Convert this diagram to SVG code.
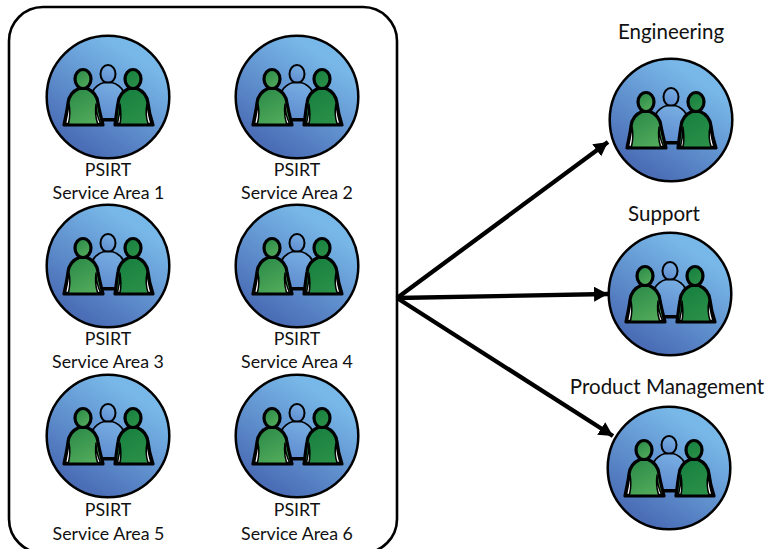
<svg xmlns="http://www.w3.org/2000/svg" width="765" height="549" viewBox="0 0 765 549">
<style>
text{font-family:Lato,"Open Sans","Liberation Sans",sans-serif;font-size:17.800px;fill:#111;text-anchor:middle}
text.t{font-size:20.500px}
.p{stroke:#000;stroke-width:3.200;stroke-linejoin:round;stroke-linecap:round}
.s{fill:#fff;stroke:#000;stroke-width:1.500;stroke-linejoin:round}
.c{stroke:#000;stroke-width:4.300;fill:none}
</style>
<defs>
<linearGradient id="bg" x1="0.8" y1="0.1" x2="0.25" y2="0.95"><stop offset="0.1" stop-color="#78b8e8"/><stop offset="0.95" stop-color="#4a6db6"/></linearGradient>
<linearGradient id="gl" x1="0.8" y1="1" x2="0.2" y2="0"><stop offset="0" stop-color="#55ad5c"/><stop offset="1" stop-color="#2a8a48"/></linearGradient>
<linearGradient id="gr" x1="0.8" y1="1" x2="0.2" y2="0"><stop offset="0" stop-color="#2c9148"/><stop offset="1" stop-color="#178040"/></linearGradient>
<linearGradient id="gb" x1="0.7" y1="0" x2="0.4" y2="1"><stop offset="0" stop-color="#78aee2"/><stop offset="1" stop-color="#5f8dd0"/></linearGradient>
<g id="team">
<circle r="61.300" fill="url(#bg)" stroke="#000" stroke-width="2.500"/>
<path d="M-10 23.500 L10 23.500" stroke="#000" stroke-width="2" fill="none"/>
<ellipse cx="0" cy="-23" rx="7.500" ry="9" fill="url(#gb)" stroke="#000" stroke-width="2"/>
<path fill="url(#gb)" stroke="#000" stroke-width="1.800" d="M-4-14.500 C-9-13-13-10-15-6 L-8 22 L8 22 L15-6 C13-10 9-13 4-14.500 Z"/>
<path class="p" fill="url(#gl)" d="M-29-8.500 C-35-6-39-2-40 6 C-41 15-43 22-44 28 L-5 28 C-7 20-9 12-10 6 C-11-2-15-6-21-8.500 Z"/>
<ellipse class="p" cx="-25" cy="-18" rx="8" ry="9.500" fill="url(#gl)"/>
<path class="s" d="M-39 7 C-40 15-41.500 22-42.500 26.500 L-39.500 26.500 C-38 20-37.500 14-39 7 Z M-12 7 C-12 14-10 21-7.500 26.500 L-10.500 26.500 C-12.500 20-13 14-12 7 Z"/>
<path class="p" fill="url(#gr)" d="M29-8.500 C35-6 39-2 40 6 C41 15 43 22 45 28 L7 28 C8 20 9 12 10 6 C11-2 15-6 21-8.500 Z"/>
<ellipse class="p" cx="25" cy="-18" rx="8" ry="9.500" fill="url(#gr)"/>
<path class="s" d="M39 7 C40 15 41.500 22 43 26.500 L40 26.500 C38 20 37.500 14 39 7 Z M12 7 C12 14 11 21 9.500 26.500 L12 26.500 C13.500 20 13 14 12 7 Z"/>
</g>
<marker id="ah" markerUnits="userSpaceOnUse" markerWidth="17" markerHeight="17" refX="14" refY="7.500" orient="auto"><path d="M0 0 L14 7.500 L0 15 Z" fill="#000"/></marker>
</defs>
<rect id="container" x="9" y="7" width="388" height="546" rx="34" fill="#fff" stroke="#000" stroke-width="2.600"/>
<g id="connectors">
<path class="c" d="M397 298 L608 142" marker-end="url(#ah)"/>
<path class="c" d="M397 298 L608 294" marker-end="url(#ah)"/>
<path class="c" d="M397 298 L613 436" marker-end="url(#ah)"/>
</g>
<g id="sa1"><use href="#team" x="108" y="97"/><text x="108" y="175.500">PSIRT</text><text x="108.500" y="199">Service Area 1</text></g>
<g id="sa2"><use href="#team" x="297" y="97"/><text x="297" y="175.500">PSIRT</text><text x="297" y="199">Service Area 2</text></g>
<g id="sa3"><use href="#team" x="108" y="266"/><text x="108" y="345">PSIRT</text><text x="108" y="368">Service Area 3</text></g>
<g id="sa4"><use href="#team" x="297" y="266"/><text x="297" y="345">PSIRT</text><text x="297" y="368">Service Area 4</text></g>
<g id="sa5"><use href="#team" x="108" y="436"/><text x="108" y="516">PSIRT</text><text x="108.500" y="540">Service Area 5</text></g>
<g id="sa6"><use href="#team" x="297" y="436"/><text x="297" y="516">PSIRT</text><text x="297" y="540">Service Area 6</text></g>
<g id="engineering"><use href="#team" x="671" y="120"/><text class="t" x="671" y="39">Engineering</text></g>
<g id="support"><use href="#team" x="670" y="294"/><text class="t" x="664" y="221">Support</text></g>
<g id="product"><use href="#team" x="669" y="468"/><text class="t" x="667" y="394">Product Management</text></g>
</svg>
